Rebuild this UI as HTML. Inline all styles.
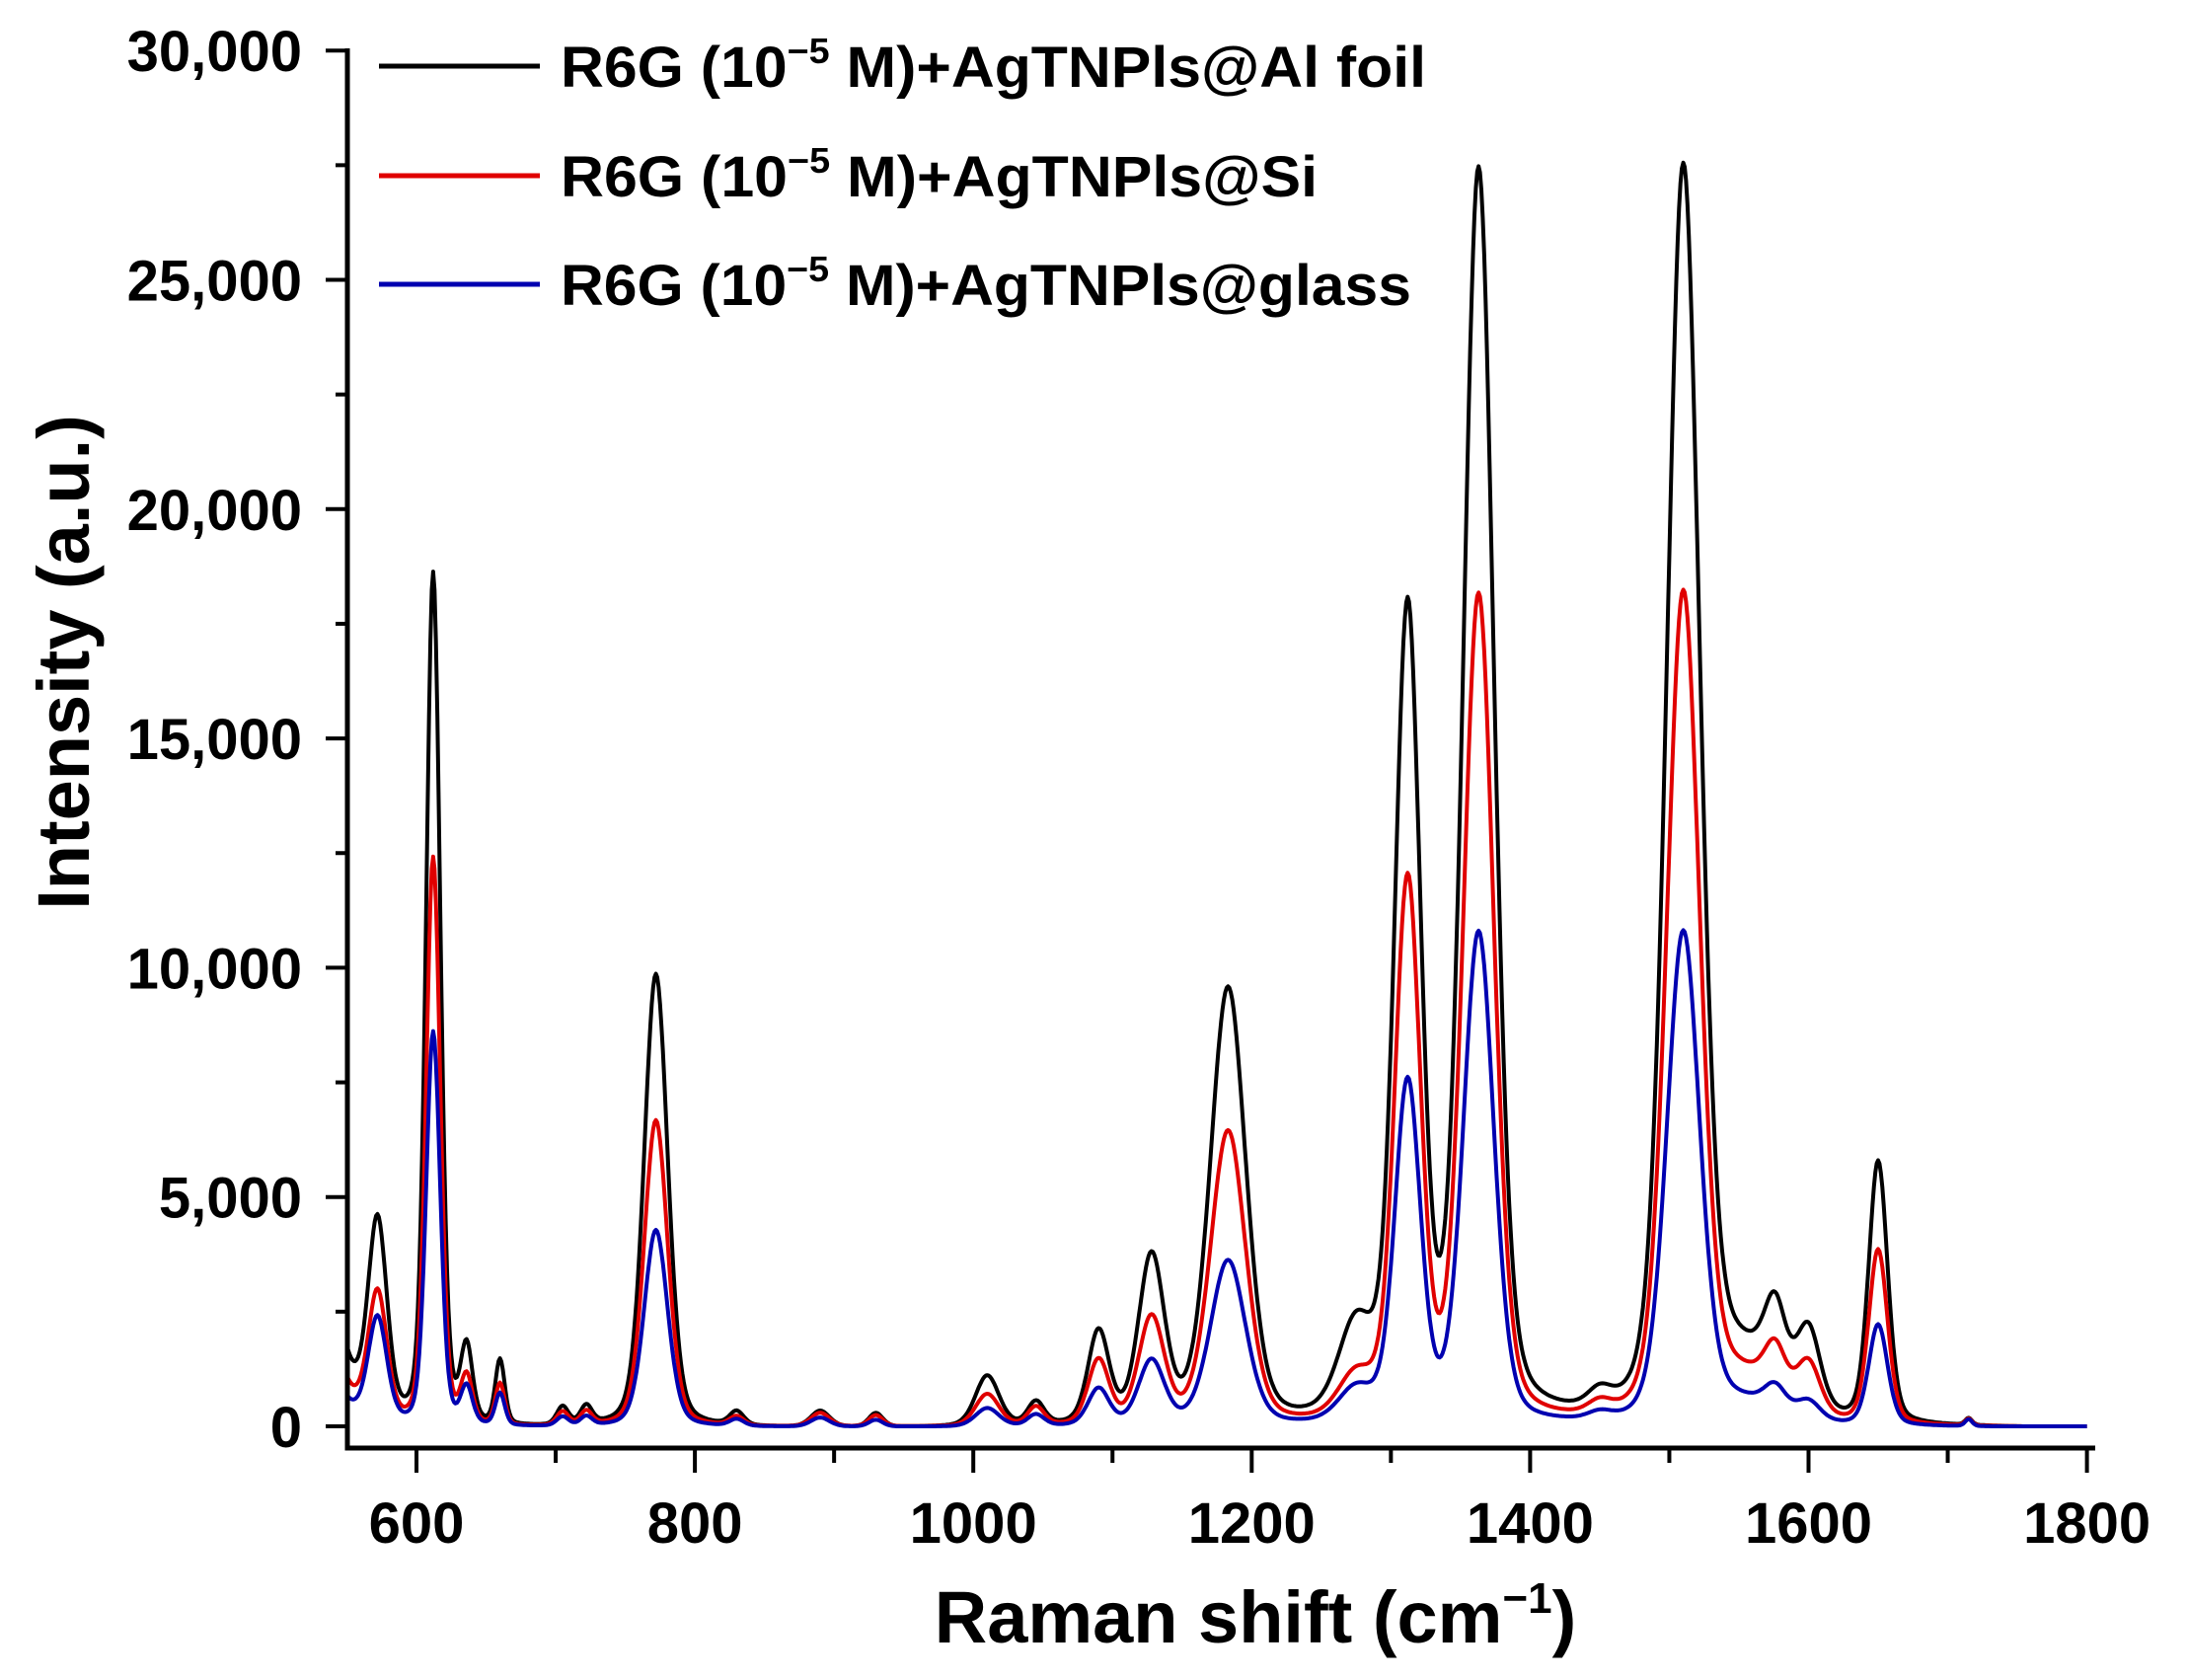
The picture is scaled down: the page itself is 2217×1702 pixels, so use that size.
<!DOCTYPE html>
<html><head><meta charset="utf-8"><style>
html,body{margin:0;padding:0;background:#fff;}
svg{display:block;font-family:"Liberation Sans",Arial,sans-serif;font-weight:bold;}
</style></head><body>
<svg id="s" width="2217" height="1702" viewBox="0 0 2217 1702" xmlns="http://www.w3.org/2000/svg">
<rect width="2217" height="1702" fill="#fff"/>
<g id="curves" fill="none" stroke-width="4" stroke-linejoin="round"></g>
<g stroke="#000" stroke-width="5" fill="none">
<path d="M352,49 V1467 H2123"/>
</g>
<g id="ticks" stroke="#000" stroke-width="4"></g>
<g font-size="58" text-anchor="end" id="ylab"></g>
<g font-size="58" text-anchor="middle" id="xlab"></g>
<text x="1272" y="1664" font-size="74" text-anchor="middle">Raman shift (cm<tspan font-size="44" dy="-30">−1</tspan><tspan dy="30">)</tspan></text>
<text transform="translate(90,671) rotate(-90)" font-size="74" text-anchor="middle">Intensity (a.u.)</text>
<g stroke-width="5">
<line x1="384" y1="67" x2="547" y2="67" stroke="#000"/>
<line x1="384" y1="178" x2="547" y2="178" stroke="#e00000"/>
<line x1="384" y1="288" x2="547" y2="288" stroke="#0000b0"/>
</g>
<g font-size="58">
<text x="568" y="88" textLength="877" lengthAdjust="spacingAndGlyphs">R6G (10<tspan font-size="36" dy="-24">−5</tspan><tspan dy="24"> M)+AgTNPls@Al foil</tspan></text>
<text x="568" y="199" textLength="767" lengthAdjust="spacingAndGlyphs">R6G (10<tspan font-size="36" dy="-24">−5</tspan><tspan dy="24"> M)+AgTNPls@Si</tspan></text>
<text x="568" y="309" textLength="862" lengthAdjust="spacingAndGlyphs">R6G (10<tspan font-size="36" dy="-24">−5</tspan><tspan dy="24"> M)+AgTNPls@glass</tspan></text>
</g>
</svg>
<script>
var NS="http://www.w3.org/2000/svg";
function X(v){return 422+(v-600)*282.1/200;}
function Y(i){return 1445-i*232.3/5000;}
function el(t,a,p){var e=document.createElementNS(NS,t);for(var k in a)e.setAttribute(k,a[k]);p.appendChild(e);return e;}
var tk=document.getElementById('ticks');
for(var i=0;i<=30000;i+=2500){var maj=i%5000==0;el('line',{x1:352,x2:maj?330:340,y1:Y(i),y2:Y(i)},tk);
 if(maj){var t=el('text',{x:306,y:Y(i)+21},document.getElementById('ylab'));t.textContent=i==0?'0':(i/1000)+',000';}}
for(var v=600;v<=1800;v+=100){var maj=v%200==0;el('line',{x1:X(v),x2:X(v),y1:1467,y2:maj?1492:1482},tk);
 if(maj){var t=el('text',{x:X(v),y:1563},document.getElementById('xlab'));t.textContent=v;}}
var P=[[572,8,4300,2800,2300],[612,6,18600,12400,8600],[636,5,1600,1000,800],[660,4,1400,900,700],
[705,5,400,300,200],[722,5,400,300,200],[772,10,9900,6700,4300],[830,6,300,200,150],[890,8,350,300,200],[930,6,300,250,150],
[1010,10,1100,700,400],[1045,7,500,400,250],[1090,9,2000,1400,800],[1128,11,3600,2300,1400],
[1183,15,9500,6400,3600],[1275,15,1900,900,700],[1312,11,17500,11700,7400],[1363,13,27200,18000,10700],
[1450,10,350,250,150],[1510,14,27200,18000,10700],[1555,30,1300,900,450],[1576,9,1600,1000,500],[1600,10,1700,1100,400],[1650,8,5700,3800,2200],[1715,3,150,150,150]];
var C=[['#000',2],['#e00000',3],['#0000b0',4]];
var g=document.getElementById('curves');
C.forEach(function(c,ci){var d='';
 for(var v=550;v<=1800;v+=1){var s=0;
  P.forEach(function(p){var x=(v-p[0])/p[1];s+=p[c[1]]*(0.72*Math.exp(-0.693*x*x)+0.28/(1+x*x));});
  s+=[1600,1000,600][ci]*Math.exp(-(v-550)/12);
  s-= [60,40,30][ci]; if(s<0)s=0;
  d+=(v==550?'M':'L')+X(v).toFixed(1)+','+Y(s).toFixed(1);}
 el('path',{d:d,stroke:c[0]},g);});
</script>
</body></html>
